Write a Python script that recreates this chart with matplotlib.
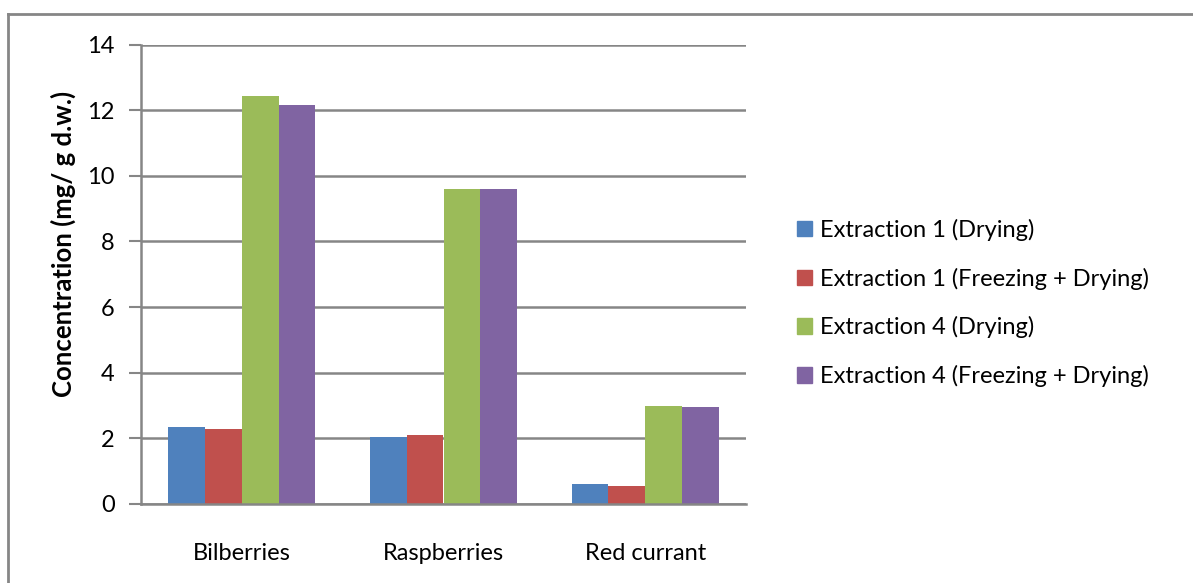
import matplotlib
matplotlib.use("Agg")
import matplotlib.pyplot as plt
from matplotlib.patches import Rectangle
from matplotlib.lines import Line2D
import numpy as np

categories = ["Bilberries", "Raspberries", "Red currant"]
series_names = [
    "Extraction 1 (Drying)",
    "Extraction 1 (Freezing + Drying)",
    "Extraction 4 (Drying)",
    "Extraction 4 (Freezing + Drying)",
]
ext1_drying = [2.34, 2.03, 0.60]
ext1_freeze_drying = [2.28, 2.09, 0.55]
ext4_drying = [12.43, 9.59, 2.98]
ext4_freeze_drying = [12.15, 9.61, 2.95]
yticks = [0, 2, 4, 6, 8, 10, 12, 14]

colors = ["#4F81BD", "#C0504D", "#9BBB59", "#8064A2"]
series = [ext1_drying, ext1_freeze_drying, ext4_drying, ext4_freeze_drying]

plt.rcParams["font.family"] = ["Lato", "DejaVu Sans"]
FS = 17

W, H = 1193, 583
fig = plt.figure(figsize=(W / 100, H / 100), dpi=100)
fig.patch.set_facecolor("white")

# outer chart frame (only top and left edges fall inside the canvas)
fig.add_artist(Line2D([8 / W, 8 / W], [0, 1 - 14 / H], transform=fig.transFigure,
                      color="#868686", lw=2))
fig.add_artist(Line2D([8 / W, 1], [1 - 14 / H, 1 - 14 / H], transform=fig.transFigure,
                      color="#868686", lw=2))

left, right, top, bottom = 141, 746, 44.5, 504
ax = fig.add_axes([left / W, 1 - bottom / H, (right - left) / W, (bottom - top) / H])

x = np.arange(len(categories))
bar_w = 0.182
offsets = (np.arange(4) - 1.5) * bar_w
for vals, off, c, name in zip(series, offsets, colors, series_names):
    ax.bar(x + off, vals, width=bar_w, color=c, label=name, zorder=3)

ax.set_xlim(-0.5, len(categories) - 0.5)
ax.set_ylim(0, 14)
ax.set_yticks(yticks)
ax.set_yticklabels([str(t) for t in yticks], fontsize=FS)
ax.set_xticks(x)
ax.set_xticklabels(categories, fontsize=FS)
ax.tick_params(axis="x", length=0, pad=28)
ax.tick_params(axis="y", length=9, width=1.5, color="#868686", pad=10)
ax.grid(axis="y", color="#868686", lw=1.8, zorder=0)
for s in ["top", "right"]:
    ax.spines[s].set_visible(False)
ax.spines["left"].set_color("#868686")
ax.spines["left"].set_linewidth(1.8)
ax.spines["bottom"].set_color("#868686")
ax.spines["bottom"].set_linewidth(1.8)
ax.spines["bottom"].set_zorder(4)

ax.set_ylabel("Concentration (mg/ g d.w.)", fontsize=18.5, fontweight="bold")
ax.yaxis.set_label_coords(-62 / (right - left) - 0.005, 0.565)

handles = [Rectangle((0, 0), 1, 1, color=c) for c in colors]
fig.legend(handles, series_names, loc="center left",
           bbox_to_anchor=(797 / W, 1 - 303 / H), frameon=False, fontsize=FS,
           borderpad=0, borderaxespad=0,
           handlelength=0.62, handleheight=0.62, handletextpad=0.35, labelspacing=1.13)

fig.savefig("out.png", dpi=100, facecolor="white")
